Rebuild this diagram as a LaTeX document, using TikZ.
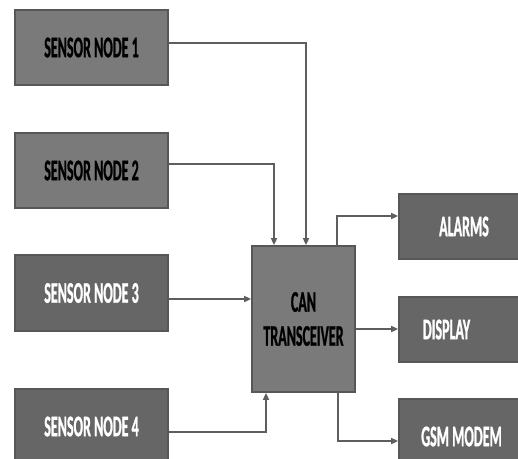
\documentclass[tikz,border=0pt]{standalone}
\usepackage{fontspec}
\newfontfamily\lblfont[FakeStretch=0.467,FakeBold=0.8]{Carlito}
\usetikzlibrary{arrows.meta}
\definecolor{lightbox}{HTML}{7A7A7A}
\definecolor{darkbox}{HTML}{666666}
\definecolor{edge}{HTML}{575757}
\definecolor{wire}{HTML}{5E5E5E}
\tikzset{
  blockbase/.style={draw=edge, line width=1.8pt, inner sep=0pt, align=center,
    font=\lblfont\bfseries\fontsize{30}{34}\selectfont},
  lightblock/.style={blockbase, fill=lightbox, text=black},
  darkblock/.style={blockbase, fill=darkbox, text=white},
  sensorsize/.style={minimum width=153pt, minimum height=75pt},
  outsize/.style={minimum width=130pt, minimum height=65pt},
  lbltext/.style={inner sep=0pt, text=white, font=\lblfont\bfseries\fontsize{30}{34}\selectfont},
  arr/.style={draw=wire, line width=2pt, -{Triangle[length=7pt,width=6pt]}}
}
\begin{document}
\begin{tikzpicture}[x=1pt,y=-1pt]
\useasboundingbox (0,0) rectangle (518,458);
\clip (0,0) rectangle (518,458);
\fill[white] (0,0) rectangle (518,458);

\node[lightblock, sensorsize] (s1) at (91.5,47.5) {SENSOR NODE 1};
\node[lightblock, sensorsize] (s2) at (91.5,170.5) {SENSOR NODE 2};
\node[darkblock, sensorsize, minimum height=76pt] (s3) at (91.5,293) {SENSOR NODE 3};
\node[darkblock, sensorsize] (s4) at (91.5,426.5) {SENSOR NODE 4};

\node[lightblock, minimum width=103pt, minimum height=146pt] (can) at (303.5,319) {CAN\\TRANSCEIVER};

\node[darkblock, outsize] (alarms) at (464,226.5) {ALARMS};
\node[darkblock, outsize] (display) at (464,329.5) {};
\node[lbltext] (displaytxt) at (446.5,329.5) {DISPLAY};
\node[darkblock, outsize, minimum height=75pt] (gsm) at (464,436.5) {};
\node[lbltext] (gsmtxt) at (461.5,436.5) {GSM MODEM};

\draw[arr] ([yshift=5pt]s1.east) -| ([xshift=2.5pt]can.north);
\draw[arr] ([yshift=6.5pt]s2.east) -| ([xshift=-29.5pt]can.north);
\draw[arr] ([yshift=-6pt]s3.east) -- ([yshift=-6pt]s3.east -| can.west);
\draw[arr] ([yshift=-5.5pt]s4.east) -| ([xshift=-37.5pt]can.south);

\draw[arr] ([xshift=33.5pt]can.north) |- ([yshift=10.5pt]alarms.west);
\draw[arr] ([yshift=-10pt]can.east) -- ([yshift=-10pt]can.east -| display.west);
\draw[arr] ([xshift=34pt]can.south) |- ([yshift=-4.5pt]gsm.west);
\end{tikzpicture}
\end{document}
